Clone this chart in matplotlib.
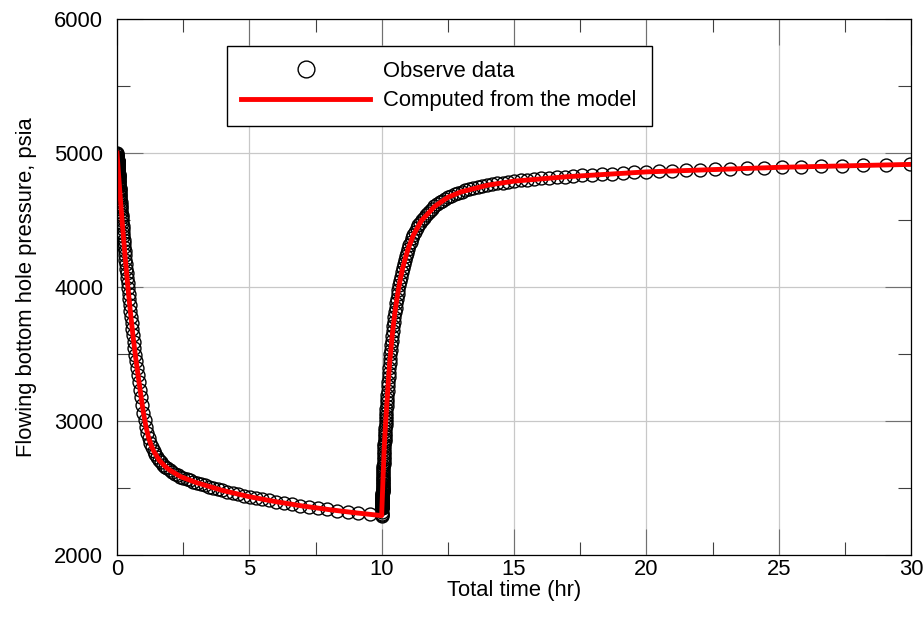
import matplotlib
matplotlib.use('Agg')
from matplotlib import pyplot as plt
from matplotlib.ticker import MultipleLocator

plt.rcParams['font.family'] = ['Liberation Sans', 'DejaVu Sans']

SHUT_IN = 10.0  # hr, well shut in after the flow period

# Observed data, flow period (hr, psia)
t_flow = [0.001, 0.002, 0.005,
          0.0100, 0.0105, 0.0110, 0.0115, 0.0120, 0.0126, 0.0132, 0.0138, 0.0145, 0.0151,
          0.0158, 0.0166, 0.0174, 0.0182, 0.0191, 0.0200, 0.0209, 0.0219, 0.0229, 0.0240,
          0.0251, 0.0263, 0.0275, 0.0288, 0.0302, 0.0316, 0.0331, 0.0347, 0.0363, 0.0380,
          0.0398, 0.0417, 0.0437, 0.0457, 0.0479, 0.0501, 0.0525, 0.0550, 0.0575, 0.0603,
          0.0631, 0.0661, 0.0692, 0.0724, 0.0759, 0.0794, 0.0832, 0.0871, 0.0912, 0.0955,
          0.100, 0.105, 0.110, 0.115, 0.120, 0.126, 0.132, 0.138, 0.145, 0.151,
          0.158, 0.166, 0.174, 0.182, 0.191, 0.200, 0.209, 0.219, 0.229, 0.240,
          0.251, 0.263, 0.275, 0.288, 0.302, 0.316, 0.331, 0.347, 0.363, 0.380,
          0.398, 0.417, 0.437, 0.457, 0.479, 0.501, 0.525, 0.550, 0.575, 0.603,
          0.631, 0.661, 0.692, 0.724, 0.759, 0.794, 0.832, 0.871, 0.912, 0.955,
          1.000, 1.047, 1.096, 1.148, 1.202, 1.259, 1.318, 1.380, 1.445, 1.514,
          1.585, 1.660, 1.738, 1.820, 1.905, 1.995, 2.089, 2.188, 2.291, 2.399,
          2.512, 2.630, 2.754, 2.884, 3.020, 3.162, 3.311, 3.467, 3.631, 3.802,
          3.981, 4.169, 4.365, 4.571, 4.786, 5.012, 5.248, 5.495, 5.754, 6.026,
          6.310, 6.607, 6.918, 7.244, 7.586, 7.943, 8.318, 8.710, 9.120, 9.550,
          10.0]
p_flow = [4997, 4994, 4986,
          4972, 4971, 4969, 4968, 4967, 4965, 4963, 4962, 4960, 4958,
          4956, 4954, 4952, 4949, 4947, 4944, 4942, 4939, 4936, 4933,
          4930, 4927, 4924, 4920, 4916, 4912, 4908, 4904, 4900, 4895,
          4890, 4885, 4879, 4874, 4868, 4862, 4856, 4849, 4842, 4834,
          4827, 4819, 4811, 4802, 4793, 4783, 4773, 4763, 4752, 4741,
          4729, 4716, 4703, 4690, 4677, 4662, 4646, 4631, 4613, 4598,
          4580, 4560, 4540, 4520, 4498, 4476, 4454, 4430, 4406, 4380,
          4354, 4326, 4298, 4268, 4237, 4205, 4172, 4137, 4102, 4066,
          4028, 3989, 3948, 3908, 3865, 3823, 3778, 3732, 3688, 3639,
          3592, 3542, 3493, 3445, 3393, 3344, 3290, 3235, 3178, 3120,
          3060, 3005, 2955, 2910, 2870, 2835, 2805, 2778, 2753, 2730,
          2710, 2692, 2675, 2660, 2646, 2633, 2620, 2608, 2596, 2585,
          2576, 2566, 2557, 2548, 2538, 2529, 2519, 2510, 2500, 2491,
          2482, 2472, 2463, 2453, 2444, 2435, 2425, 2416, 2407, 2397,
          2388, 2378, 2369, 2360, 2350, 2341, 2331, 2322, 2313, 2303,
          2294]

# Observed data, buildup (shut-in time hr, psia)
dt_shut = t_flow[:-1] + [10.0, 10.47, 10.96, 11.48, 12.02, 12.59, 13.18, 13.80,
                         14.45, 15.14, 15.85, 16.60, 17.38, 18.20, 19.05, 19.95]
p_shut = [2300, 2305, 2322,
          2350, 2353, 2355, 2358, 2361, 2364, 2368, 2371, 2375, 2378,
          2382, 2386, 2390, 2394, 2399, 2404, 2409, 2415, 2420, 2426,
          2432, 2439, 2445, 2452, 2459, 2467, 2475, 2483, 2492, 2501,
          2510, 2520, 2531, 2542, 2553, 2565, 2577, 2590, 2603, 2618,
          2632, 2647, 2663, 2679, 2696, 2713, 2732, 2751, 2771, 2791,
          2813, 2831, 2849, 2867, 2885, 2906, 2927, 2947, 2971, 2991,
          3014, 3039, 3063, 3087, 3113, 3140, 3167, 3197, 3227, 3260,
          3292, 3326, 3360, 3397, 3434, 3465, 3498, 3532, 3565, 3600,
          3636, 3672, 3708, 3742, 3777, 3811, 3845, 3880, 3913, 3948,
          3980, 4013, 4045, 4076, 4109, 4140, 4170, 4199, 4228, 4257,
          4285, 4312, 4338, 4364, 4390, 4414, 4437, 4459, 4479, 4498,
          4516, 4534, 4551, 4568, 4585, 4601, 4616, 4631, 4645, 4658,
          4670, 4681, 4692, 4702, 4712, 4721, 4730, 4738, 4746, 4753,
          4760, 4767, 4773, 4779, 4785, 4791, 4796, 4801, 4806, 4811,
          4815, 4820, 4824, 4829, 4833, 4838, 4842, 4846, 4851, 4855,
          4859, 4863, 4867, 4871, 4875, 4878, 4882, 4886, 4889, 4893,
          4897, 4900, 4904, 4907, 4911, 4915]

# Model curve
model_t = [0, 0.05, 0.1, 0.15, 0.2, 0.3, 0.4, 0.5, 0.6, 0.7, 0.8, 0.9, 1.0, 1.1, 1.2,
           1.3, 1.4, 1.6, 1.8, 2.0, 2.4, 3.0, 4.0, 5.0, 6.0, 7.0, 8.0, 9.0, 10.0,
           10.02, 10.05, 10.1, 10.15, 10.2, 10.25, 10.3, 10.4, 10.5, 10.6, 10.7, 10.8,
           10.9, 11.0, 11.2, 11.5, 12.0, 12.5, 13.0, 14.0, 15.0, 17.0, 20.0, 25.0, 30.0]
model_p = [5000, 4862, 4729, 4600, 4476, 4241, 4024, 3825, 3644, 3481, 3336, 3195, 3060, 2951, 2871,
           2814, 2770, 2706, 2664, 2632, 2585, 2540, 2481, 2435, 2398, 2366, 2339, 2315, 2294,
           2404, 2565, 2813, 2987, 3140, 3289, 3429, 3640, 3809, 3944, 4054, 4145,
           4220, 4285, 4389, 4495, 4601, 4669, 4710, 4760, 4790, 4823, 4859, 4893, 4915]

t_obs = t_flow + [SHUT_IN + dt for dt in dt_shut]
p_obs = p_flow + p_shut

FS = 15.8

fig, ax = plt.subplots(figsize=(9.24, 6.2), dpi=100)
fig.subplots_adjust(left=117/924, right=911/924, bottom=65/620, top=601/620)

ax.plot(t_obs, p_obs, linestyle='none', marker='o', markersize=9.3,
        markerfacecolor='none', markeredgecolor='black', markeredgewidth=1.0,
        label='Observe data')
ax.plot(model_t, model_p, color='red', linewidth=3.5, label='Computed from the model')

ax.set_xlim(0, 30)
ax.set_ylim(2000, 6000)
ax.xaxis.set_major_locator(MultipleLocator(5))
ax.xaxis.set_minor_locator(MultipleLocator(2.5))
ax.yaxis.set_major_locator(MultipleLocator(1000))
ax.yaxis.set_minor_locator(MultipleLocator(500))

ax.set_axisbelow(True)
ax.grid(which='major', color='#c8c8c8', linewidth=0.9)
ax.tick_params(which='major', direction='in', length=19, width=0.8, color='#707070',
               top=True, right=True, labelsize=FS)
ax.tick_params(which='minor', direction='in', length=9.5, width=0.8, color='#404040',
               top=True, right=True)
ax.tick_params(axis='x', pad=3)
ax.tick_params(axis='y', pad=10)
for s in ax.spines.values():
    s.set_color('black')
    s.set_linewidth(0.9)

ax.set_xlabel('Total time (hr)', fontsize=FS, labelpad=0)
ax.set_ylabel('Flowing bottom hole pressure, psia', fontsize=FS, labelpad=12)

# legend box placed like the original, slightly taller rows
leg = ax.legend(loc='upper left', bbox_to_anchor=(0.138, 0.9496), fontsize=FS,
                frameon=True, fancybox=False, edgecolor='black', framealpha=1,
                handlelength=5.86, handletextpad=0.6, borderpad=0.68,
                labelspacing=0.39, borderaxespad=0, numpoints=1, markerscale=1.3)
leg.get_frame().set_linewidth(1.0)

fig.savefig('out.png', dpi=100)
